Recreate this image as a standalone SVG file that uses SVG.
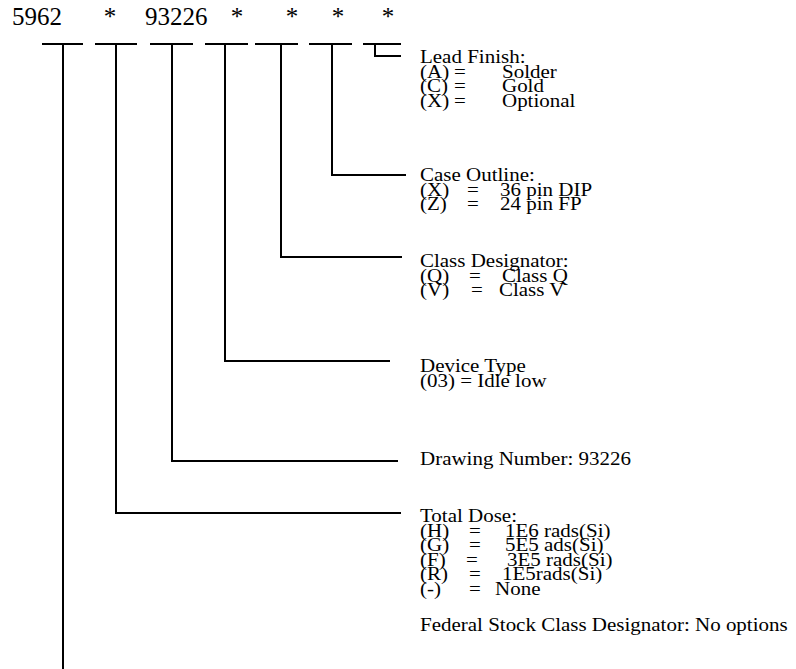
<svg xmlns="http://www.w3.org/2000/svg" width="796" height="669" viewBox="0 0 796 669">
<style>
text{font-family:"Liberation Serif","Times New Roman",serif;fill:#000}
.pn{font-size:25px}
.lb text{font-size:21px}
.ln{fill:none;stroke:#000;stroke-width:2}
</style>
<rect width="796" height="669" fill="#fff"/>
<g id="part-number">
<text class="pn" x="12" y="25">5962</text>
<text class="pn" x="110" y="25" text-anchor="middle">*</text>
<text class="pn" x="145" y="25">93226</text>
<text class="pn" x="237" y="25" text-anchor="middle">*</text>
<text class="pn" x="292" y="25" text-anchor="middle">*</text>
<text class="pn" x="338" y="25" text-anchor="middle">*</text>
<text class="pn" x="388" y="25" text-anchor="middle">*</text>
</g>
<g id="connectors" class="ln">
<path d="M42 44H83M63 44V669"/>
<path d="M95 44H137M116 44V513H401"/>
<path d="M150 44H193M172 44V461H398"/>
<path d="M205 44H248M225 44V361H390"/>
<path d="M255 44H298M281 44V257H402"/>
<path d="M309 44H352M332 44V175H406"/>
<path d="M363 44H401M375 44V56H401"/>
</g>
<g id="lead-finish" class="lb">
<text x="420" transform="matrix(1 0 0 .85 0 63)">Lead Finish:</text>
<text x="420" transform="matrix(1 0 0 .85 0 77.5)">(A)</text><text x="454" transform="matrix(1 0 0 .85 0 77.5)">=</text><text x="502" transform="matrix(1 0 0 .85 0 77.5)">Solder</text>
<text x="420" transform="matrix(1 0 0 .85 0 92)">(C)</text><text x="454" transform="matrix(1 0 0 .85 0 92)">=</text><text x="502" transform="matrix(1 0 0 .85 0 92)">Gold</text>
<text x="420" transform="matrix(1 0 0 .85 0 106.5)">(X)</text><text x="454" transform="matrix(1 0 0 .85 0 106.5)">=</text><text x="502" transform="matrix(1 0 0 .85 0 106.5)">Optional</text>
</g>
<g id="case-outline" class="lb">
<text x="420" transform="matrix(1 0 0 .85 0 181)">Case Outline:</text>
<text x="420" transform="matrix(1 0 0 .85 0 195.5)">(X)</text><text x="467" transform="matrix(1 0 0 .85 0 195.5)">=</text><text x="500" transform="matrix(1 0 0 .85 0 195.5)">36 pin DIP</text>
<text x="420" transform="matrix(1 0 0 .85 0 210)">(Z)</text><text x="467" transform="matrix(1 0 0 .85 0 210)">=</text><text x="500" transform="matrix(1 0 0 .85 0 210)">24 pin FP</text>
</g>
<g id="class-designator" class="lb">
<text x="420" transform="matrix(1 0 0 .85 0 267)">Class Designator:</text>
<text x="420" transform="matrix(1 0 0 .85 0 281.5)">(Q)</text><text x="469" transform="matrix(1 0 0 .85 0 281.5)">=</text><text x="502" transform="matrix(1 0 0 .85 0 281.5)">Class Q</text>
<text x="420" transform="matrix(1 0 0 .85 0 296)">(V)</text><text x="471" transform="matrix(1 0 0 .85 0 296)">=</text><text x="499" transform="matrix(1 0 0 .85 0 296)">Class V</text>
</g>
<g id="device-type" class="lb">
<text x="420" transform="matrix(1 0 0 .85 0 372)">Device Type</text>
<text x="420" transform="matrix(1 0 0 .85 0 386.5)">(03) = Idle low</text>
</g>
<g id="drawing-number" class="lb">
<text x="420" transform="matrix(1 0 0 .85 0 465)">Drawing Number: 93226</text>
</g>
<g id="total-dose" class="lb">
<text x="420" transform="matrix(1 0 0 .85 0 522)">Total Dose:</text>
<text x="420" transform="matrix(1 0 0 .85 0 536.5)">(H)</text><text x="469" transform="matrix(1 0 0 .85 0 536.5)">=</text><text x="505" transform="matrix(1 0 0 .85 0 536.5)">1E6 rads(Si)</text>
<text x="420" transform="matrix(1 0 0 .85 0 551)">(G)</text><text x="469" transform="matrix(1 0 0 .85 0 551)">=</text><text x="505" transform="matrix(1 0 0 .85 0 551)">5E5 ads(Si)</text>
<text x="420" transform="matrix(1 0 0 .85 0 565.5)">(F)</text><text x="466" transform="matrix(1 0 0 .85 0 565.5)">=</text><text x="507" transform="matrix(1 0 0 .85 0 565.5)">3E5 rads(Si)</text>
<text x="420" transform="matrix(1 0 0 .85 0 580)">(R)</text><text x="469" transform="matrix(1 0 0 .85 0 580)">=</text><text x="502" transform="matrix(1 0 0 .85 0 580)">1E5rads(Si)</text>
<text x="420" transform="matrix(1 0 0 .85 0 594.5)">(-)</text><text x="469" transform="matrix(1 0 0 .85 0 594.5)">=</text><text x="495" transform="matrix(1 0 0 .85 0 594.5)">None</text>
</g>
<g id="federal-stock-class" class="lb">
<text x="420" transform="matrix(1 0 0 .85 0 631)">Federal Stock Class Designator: No options</text>
</g>
</svg>
